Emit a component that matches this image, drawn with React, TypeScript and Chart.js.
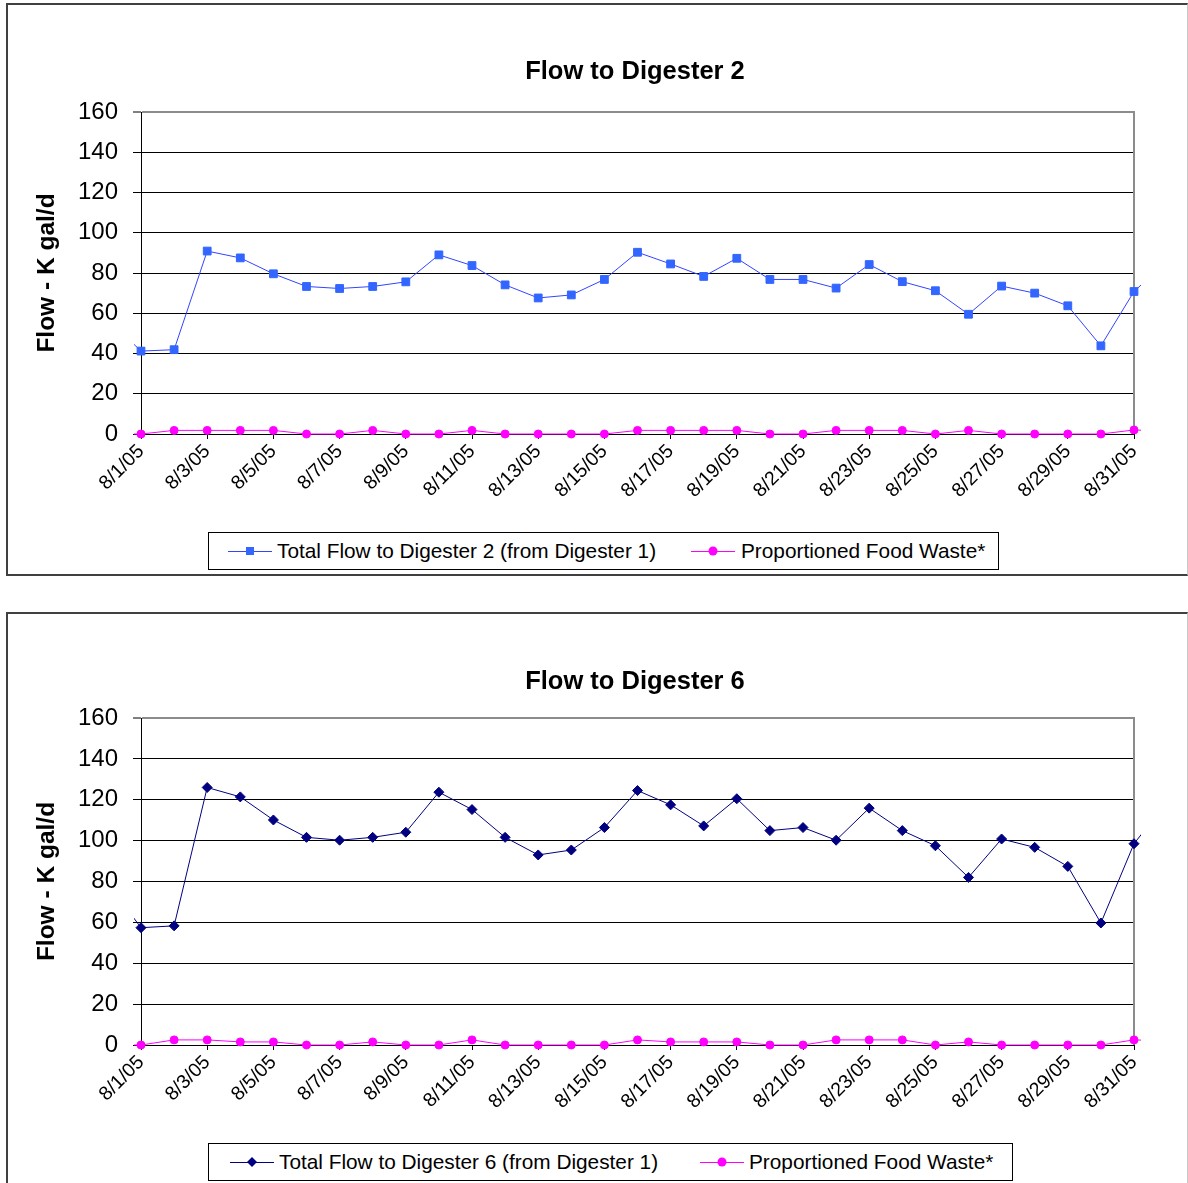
import React, { useEffect, useRef } from 'react';
import { Chart, registerables } from 'chart.js';

Chart.register(...registerables);

const FONT = '"Liberation Sans", Arial, Helvetica, sans-serif';

// Categories (7/31 and 9/1 lie just outside the plotted range; only their line stubs show)
const dates = [
  '7/31/05',
  '8/1/05', '8/2/05', '8/3/05', '8/4/05', '8/5/05', '8/6/05', '8/7/05', '8/8/05', '8/9/05', '8/10/05',
  '8/11/05', '8/12/05', '8/13/05', '8/14/05', '8/15/05', '8/16/05', '8/17/05', '8/18/05', '8/19/05', '8/20/05',
  '8/21/05', '8/22/05', '8/23/05', '8/24/05', '8/25/05', '8/26/05', '8/27/05', '8/28/05', '8/29/05', '8/30/05',
  '8/31/05',
  '9/1/05',
];

const digester2Flow = [
  57,
  41.2, 41.9, 90.9, 87.5, 79.6, 73.3, 72.3, 73.3, 75.6, 89.0,
  83.7, 74.1, 67.6, 69.1, 76.8, 90.3, 84.5, 78.3, 87.3, 76.8,
  76.8, 72.5, 84.2, 75.7, 71.2, 59.5, 73.5, 70.0, 63.7, 43.8,
  70.8,
  86,
];

const foodWaste2 = [
  0,
  0, 1.8, 1.8, 1.8, 1.8, 0, 0, 1.8, 0, 0,
  1.8, 0, 0, 0, 0, 1.8, 1.8, 1.8, 1.8, 0,
  0, 1.8, 1.8, 1.8, 0, 1.8, 0, 0, 0, 0,
  2.0,
  1.5,
];

const digester6Flow = [
  79,
  57.4, 58.3, 126.0, 121.4, 110.1, 101.6, 100.2, 101.6, 104.1, 123.7,
  115.2, 101.6, 93.0, 95.4, 106.4, 124.5, 117.5, 107.2, 120.5, 104.9,
  106.4, 100.2, 115.9, 104.9, 97.5, 82.0, 100.8, 96.7, 87.4, 59.7,
  98.5,
  119,
];

const foodWaste6 = [
  0,
  0, 2.5, 2.5, 1.5, 1.5, 0, 0, 1.5, 0, 0,
  2.5, 0, 0, 0, 0, 2.5, 1.5, 1.5, 1.5, 0,
  0, 2.5, 2.5, 2.5, 0, 1.5, 0, 0, 0, 0,
  2.5,
  2,
];

const yTicks = { min: 0, max: 160, step: 20 };
const firstDay = '8/1/05';
const lastDay = '8/31/05';

const CANVAS_W = 1178;
const CANVAS_H = 568;

const framePlugin = {
  id: 'plotFrame',
  beforeDatasetsDraw(chart: any) {
    const { ctx, chartArea } = chart;
    ctx.save();
    ctx.strokeStyle = '#8c8c8c';
    ctx.lineWidth = 2;
    const x = Math.round(chartArea.right);
    ctx.beginPath();
    ctx.moveTo(x, chartArea.top - 1);
    ctx.lineTo(x, chartArea.bottom);
    ctx.stroke();
    ctx.restore();
  },
};

type PanelProps = {
  boxTop: number;
  boxHeight: number;
  title: string;
  titleTop: number;
  mainLabel: string;
  mainData: number[];
  mainFill: string;
  mainLine: string;
  mainStyle: string;
  mainRadius: number;
  foodData: number[];
  areaTop: number;
  areaBottom: number;
  legendTop: number;
  legendWidth: number;
  sample1: number;
  text1: number;
  sample2: number;
  text2: number;
};

function Sample({ left, top, color, lineColor, shape }: { left: number; top: number; color: string; lineColor: string; shape: string }) {
  let marker: any = null;
  if (shape === 'rect') {
    marker = <rect x={18} y={2} width={8} height={8} fill={color} />;
  } else if (shape === 'rectRot') {
    marker = <polygon points="22,1 27,6 22,11 17,6" fill={color} />;
  } else {
    marker = <circle cx={22} cy={6} r={4.5} fill={color} />;
  }
  return (
    <svg
      width={44}
      height={12}
      style={{ position: 'absolute', left, top: top - 6, overflow: 'visible' }}
    >
      <line x1={0} y1={6.5} x2={44} y2={6.5} stroke={lineColor} strokeWidth={1} />
      {marker}
    </svg>
  );
}

function Panel(p: PanelProps) {
  const ref = useRef<HTMLCanvasElement | null>(null);

  useEffect(() => {
    if (!ref.current) return;
    const minIndex = dates.indexOf(firstDay);
    const maxIndex = dates.indexOf(lastDay);
    const chart = new Chart(ref.current, {
      type: 'line',
      data: {
        labels: dates,
        datasets: [
          {
            label: p.mainLabel,
            data: p.mainData,
            borderColor: p.mainLine,
            backgroundColor: p.mainFill,
            borderWidth: 1,
            tension: 0,
            pointStyle: p.mainStyle as any,
            pointRadius: p.mainRadius,
            pointBackgroundColor: p.mainFill,
            pointBorderColor: p.mainFill,
            pointBorderWidth: 1,
            clip: { left: 7, right: 7, top: 12, bottom: 12 } as any,
          },
          {
            label: 'Proportioned Food Waste*',
            data: p.foodData,
            borderColor: '#FF00FF',
            backgroundColor: '#FF00FF',
            borderWidth: 1,
            tension: 0,
            pointStyle: 'circle',
            pointRadius: 4,
            pointBackgroundColor: '#FF00FF',
            pointBorderColor: '#FF00FF',
            pointBorderWidth: 1,
            clip: { left: 7, right: 7, top: 12, bottom: 12 } as any,
          },
        ],
      },
      options: {
        responsive: false,
        animation: false,
        events: [],
        layout: { padding: { left: 0, top: p.areaTop, right: CANVAS_W - 1126, bottom: 0 } },
        plugins: {
          legend: { display: false },
          tooltip: { enabled: false },
          title: { display: false },
        },
        scales: {
          x: {
            type: 'category',
            offset: false,
            afterDataLimits: (scale: any) => {
              scale.min = minIndex;
              scale.max = maxIndex;
            },
            grid: {
              drawOnChartArea: false,
              drawTicks: true,
              tickLength: 5,
              lineWidth: 1,
              color: (ctx: any) => (ctx.index % 2 === 0 ? '#000' : 'rgba(0,0,0,0)'),
            },
            border: { display: true, color: '#000', width: 1 },
            ticks: {
              autoSkip: false,
              maxRotation: 45,
              minRotation: 45,
              padding: 1,
              color: '#000',
              font: { family: FONT, size: 19.5 },
              callback: function (this: any, value: any, index: number) {
                return index % 2 === 0 ? this.getLabelForValue(value) : '';
              },
            },
            afterFit: (scale: any) => {
              scale.height = CANVAS_H - p.areaBottom;
            },
          },
          y: {
            min: yTicks.min,
            max: yTicks.max,
            ticks: {
              stepSize: yTicks.step,
              padding: 15,
              color: '#000',
              font: { family: FONT, size: 24 },
            },
            grid: {
              color: (ctx: any) => (ctx.tick && ctx.tick.value === yTicks.max ? '#8c8c8c' : '#000'),
              lineWidth: (ctx: any) => (ctx.tick && ctx.tick.value === yTicks.max ? 2 : 1),
              tickLength: 8,
              tickColor: '#000',
              tickWidth: 1,
            },
            border: { display: true, color: '#000', width: 1 },
            title: {
              display: true,
              text: 'Flow - K gal/d',
              color: '#000',
              font: { family: FONT, size: 24.5, weight: 'bold' },
              padding: { top: 25, bottom: 0 },
            },
            afterFit: (scale: any) => {
              scale.width = 133;
            },
          },
        },
      } as any,
      plugins: [framePlugin],
    });
    return () => chart.destroy();
  }, []);

  const canvasTop = p.boxTop + 2;
  const legendCenter = p.legendTop + 19;

  return (
    <>
      <div
        style={{
          position: 'absolute',
          left: 6,
          top: p.boxTop,
          width: 1182,
          height: p.boxHeight,
          boxSizing: 'border-box',
          borderLeft: '2px solid #404040',
          borderTop: '2px solid #404040',
          borderBottom: '2px solid #404040',
          borderRight: '1px solid #c8c8c8',
        }}
      />
      <canvas
        ref={ref}
        width={CANVAS_W}
        height={CANVAS_H}
        style={{ position: 'absolute', left: 8, top: canvasTop, width: CANVAS_W, height: CANVAS_H }}
      />
      <div
        style={{
          position: 'absolute',
          left: 335,
          width: 600,
          top: p.titleTop,
          textAlign: 'center',
          fontWeight: 'bold',
          fontSize: 25.5,
          lineHeight: '24px',
          color: '#000',
          whiteSpace: 'nowrap',
        }}
      >
        {p.title}
      </div>
      <div
        style={{
          position: 'absolute',
          left: 208,
          top: p.legendTop,
          width: p.legendWidth,
          height: 38,
          boxSizing: 'border-box',
          border: '1px solid #000',
          background: '#fff',
        }}
      />
      <Sample left={p.sample1} top={legendCenter} color={p.mainFill} lineColor={p.mainLine} shape={p.mainStyle} />
      <div
        style={{
          position: 'absolute',
          left: p.text1,
          top: legendCenter - 12,
          fontSize: 20.8,
          lineHeight: '24px',
          color: '#000',
          whiteSpace: 'nowrap',
        }}
      >
        {p.mainLabel}
      </div>
      <Sample left={p.sample2} top={legendCenter} color="#FF00FF" lineColor="#FF00FF" shape="circle" />
      <div
        style={{
          position: 'absolute',
          left: p.text2,
          top: legendCenter - 12,
          fontSize: 20.8,
          lineHeight: '24px',
          color: '#000',
          whiteSpace: 'nowrap',
        }}
      >
        Proportioned Food Waste*
      </div>
    </>
  );
}

export default function App() {
  return (
    <div
      style={{
        position: 'absolute',
        left: 0,
        top: 0,
        width: 1188,
        height: 1183,
        overflow: 'hidden',
        background: '#fff',
        fontFamily: FONT,
      }}
    >
      <Panel
        boxTop={3}
        boxHeight={573}
        title="Flow to Digester 2"
        titleTop={58}
        mainLabel="Total Flow to Digester 2 (from Digester 1)"
        mainData={digester2Flow}
        mainFill="#3366FF"
        mainLine="#3344FF"
        mainStyle="rect"
        mainRadius={5.5}
        foodData={foodWaste2}
        areaTop={107}
        areaBottom={429}
        legendTop={532}
        legendWidth={791}
        sample1={228}
        text1={277}
        sample2={691}
        text2={741}
      />
      <Panel
        boxTop={612}
        boxHeight={600}
        title="Flow to Digester 6"
        titleTop={668}
        mainLabel="Total Flow to Digester 6 (from Digester 1)"
        mainData={digester6Flow}
        mainFill="#000080"
        mainLine="#000080"
        mainStyle="rectRot"
        mainRadius={5}
        foodData={foodWaste6}
        areaTop={104}
        areaBottom={431}
        legendTop={1143}
        legendWidth={805}
        sample1={230}
        text1={279}
        sample2={700}
        text2={749}
      />
    </div>
  );
}
